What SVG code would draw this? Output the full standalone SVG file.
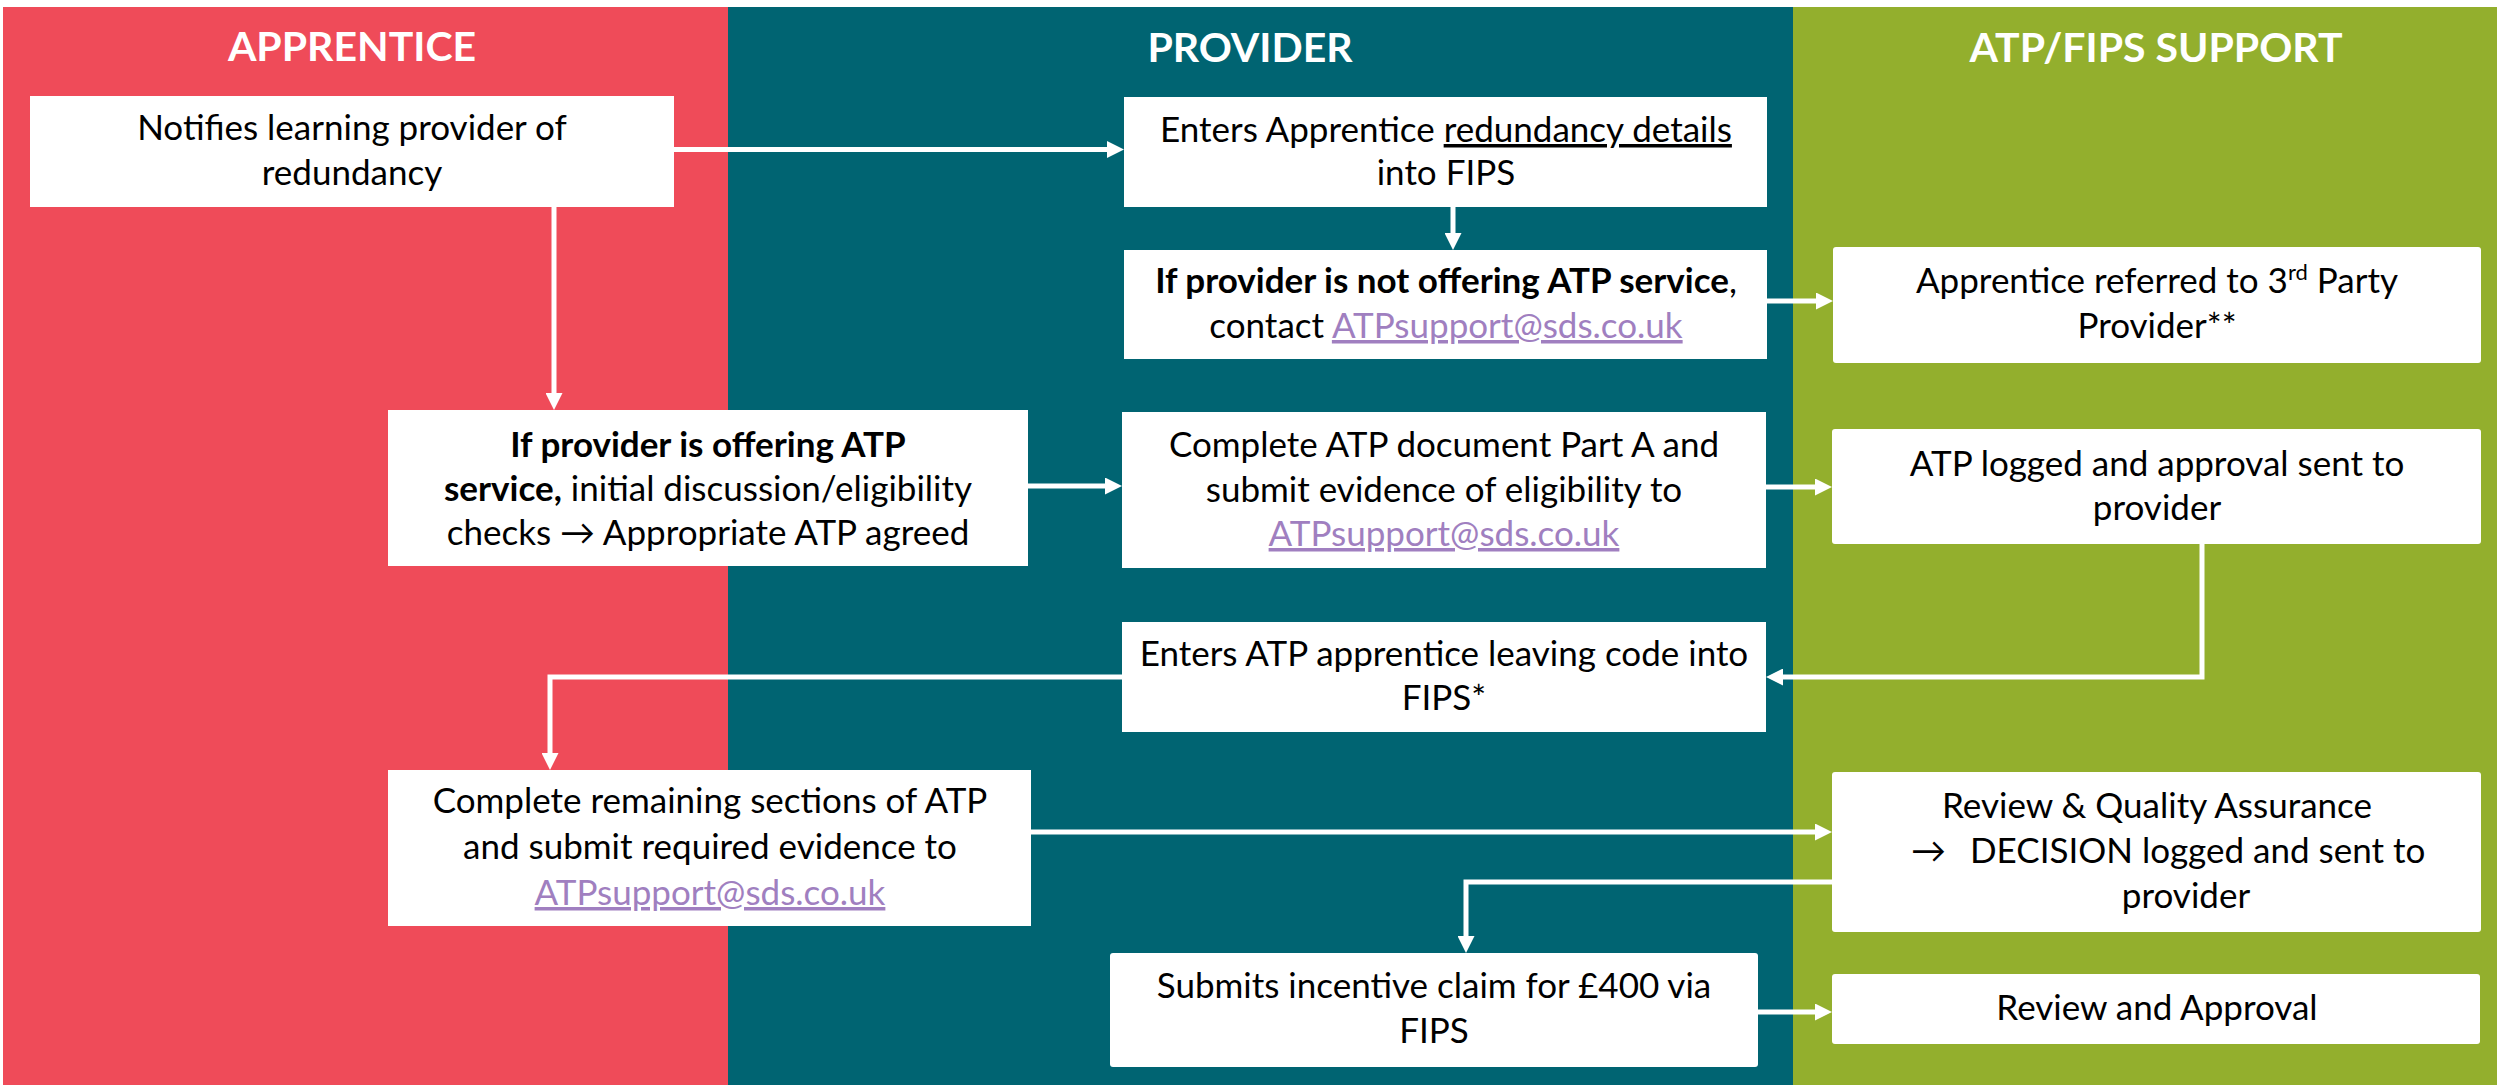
<svg xmlns="http://www.w3.org/2000/svg" width="2497" height="1085" viewBox="0 0 2497 1085">
<style>
.box{fill:#ffffff}
.t{font-family:Lato,"DejaVu Sans",sans-serif;font-size:35px;fill:#000000;text-anchor:middle}
.ts{text-anchor:start}
.h{font-family:Lato,"DejaVu Sans",sans-serif;font-size:41px;font-weight:bold;fill:#ffffff;text-anchor:middle}
.b{font-weight:bold}
.lk{fill:#A07FC0;text-decoration:underline}
.u{text-decoration:underline}
.c{fill:none;stroke:#ffffff;stroke-width:5}
</style>
<defs>
<marker id="ah" markerUnits="userSpaceOnUse" markerWidth="17" markerHeight="17" refX="9" refY="8.5" orient="auto">
<path d="M0,0 L17,8.5 L0,17 Z" fill="#ffffff"/>
</marker>
</defs>
<rect width="2497" height="1085" fill="#ffffff"/>
<g id="lanes">
<rect x="3" y="7" width="725" height="1078" fill="#EF4B59"/>
<rect x="728" y="7" width="1065" height="1078" fill="#006472"/>
<rect x="1793" y="7" width="704" height="1078" fill="#93AF2D"/>
<text class="h" x="352" y="61">APPRENTICE</text>
<text class="h" x="1250" y="62">PROVIDER</text>
<text class="h" x="2156" y="62">ATP/FIPS SUPPORT</text>
</g>
<g id="connectors">
<line class="c" x1="674" y1="149.5" x2="1116" y2="149.5" marker-end="url(#ah)"/>
<line class="c" x1="554" y1="207" x2="554" y2="402" marker-end="url(#ah)"/>
<line class="c" x1="1453" y1="207" x2="1453" y2="242" marker-end="url(#ah)"/>
<line class="c" x1="1767" y1="301" x2="1825" y2="301" marker-end="url(#ah)"/>
<line class="c" x1="1028" y1="486" x2="1114" y2="486" marker-end="url(#ah)"/>
<line class="c" x1="1766" y1="487" x2="1824" y2="487" marker-end="url(#ah)"/>
<polyline class="c" points="2202,544 2202,677 1774,677" marker-end="url(#ah)"/>
<polyline class="c" points="1122,677 550,677 550,762" marker-end="url(#ah)"/>
<line class="c" x1="1031" y1="832" x2="1824" y2="832" marker-end="url(#ah)"/>
<polyline class="c" points="1832,882 1466,882 1466,945" marker-end="url(#ah)"/>
<line class="c" x1="1758" y1="1012" x2="1824" y2="1012" marker-end="url(#ah)"/>
</g>
<g id="n1">
<rect class="box" x="30" y="96" width="644" height="111"/>
<text class="t" x="352" y="140">Notifies learning provider of</text>
<text class="t" x="352" y="185">redundancy</text>
</g>
<g id="n2">
<rect class="box" x="1124" y="97" width="643" height="110"/>
<text class="t" x="1446" y="142">Enters Apprentice <tspan class="u">redundancy details</tspan></text>
<text class="t" x="1446" y="185">into FIPS</text>
</g>
<g id="n3">
<rect class="box" x="1124" y="250" width="643" height="109"/>
<text class="t" x="1446" y="293"><tspan class="b">If provider is not offering ATP service</tspan>,</text>
<text class="t" x="1446" y="338">contact <tspan class="lk">ATPsupport@sds.co.uk</tspan></text>
</g>
<g id="n4">
<rect class="box" x="1833" y="247" width="648" height="116" rx="3"/>
<text class="t" x="2157" y="293">Apprentice referred to 3<tspan font-size="22" dy="-13">rd</tspan><tspan dy="13"> Party</tspan></text>
<text class="t" x="2157" y="338">Provider**</text>
</g>
<g id="n5">
<rect class="box" x="388" y="410" width="640" height="156"/>
<text class="t" x="708" y="457"><tspan class="b">If provider is offering ATP</tspan></text>
<text class="t" x="708" y="501"><tspan class="b">service,</tspan> initial discussion/eligibility</text>
<text class="t" x="708" y="545">checks → Appropriate ATP agreed</text>
</g>
<g id="n7">
<rect class="box" x="1122" y="412" width="644" height="156"/>
<text class="t" x="1444" y="457">Complete ATP document Part A and</text>
<text class="t" x="1444" y="502">submit evidence of eligibility  to</text>
<text class="t" x="1444" y="546"><tspan class="lk">ATPsupport@sds.co.uk</tspan></text>
</g>
<g id="n8">
<rect class="box" x="1832" y="429" width="649" height="115" rx="3"/>
<text class="t" x="2157" y="476">ATP logged and approval sent to</text>
<text class="t" x="2157" y="520">provider</text>
</g>
<g id="n9">
<rect class="box" x="1122" y="622" width="644" height="110"/>
<text class="t" x="1444" y="666">Enters ATP apprentice leaving code into</text>
<text class="t" x="1444" y="710">FIPS*</text>
</g>
<g id="n6">
<rect class="box" x="388" y="770" width="643" height="156"/>
<text class="t" x="710" y="813">Complete remaining sections of ATP</text>
<text class="t" x="710" y="859">and submit required evidence to</text>
<text class="t" x="710" y="905"><tspan class="lk">ATPsupport@sds.co.uk</tspan></text>
</g>
<g id="n10">
<rect class="box" x="1832" y="772" width="649" height="160" rx="3"/>
<text class="t" x="2157" y="818">Review &amp; Quality Assurance</text>
<text class="t ts" x="1911" y="863">→</text>
<text class="t ts" x="1970" y="863">DECISION logged and sent to</text>
<text class="t" x="2186" y="908">provider</text>
</g>
<g id="n11">
<rect class="box" x="1110" y="953" width="648" height="114" rx="3"/>
<text class="t" x="1434" y="998">Submits incentive claim for £400 via</text>
<text class="t" x="1434" y="1043">FIPS</text>
</g>
<g id="n12">
<rect class="box" x="1832" y="974" width="648" height="70" rx="3"/>
<text class="t" x="2157" y="1020">Review and Approval</text>
</g>
</svg>
